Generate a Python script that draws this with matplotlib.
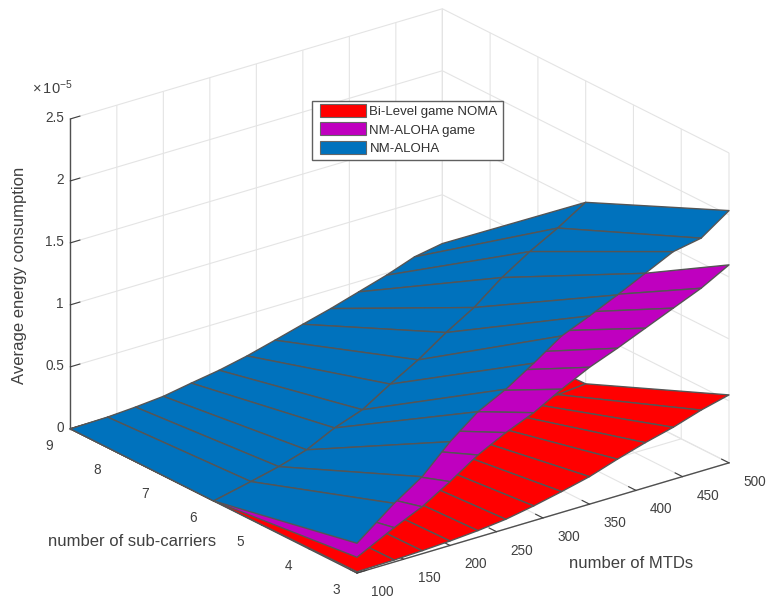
import numpy as np
import matplotlib
matplotlib.use('Agg')
import matplotlib.pyplot as plt
from matplotlib.patches import Patch, Rectangle
from matplotlib.legend_handler import HandlerPatch
from mpl_toolkits.mplot3d import proj3d

plt.rcParams['font.family'] = ['Liberation Sans', 'DejaVu Sans']
plt.rcParams['mathtext.default'] = 'regular'

# ---- data (energy in units of 1e-5) ----
mtds = [100, 140, 170, 200, 230, 260, 290, 320, 350, 380, 410, 440, 470, 500]
subcarriers = [3, 6, 9]

bilevel_y3 = [.01, .016, .024, .036, .053, .078, .119, .168, .222, .296, .363, .420, .492, .548]
bilevel_y6 = [0, .001, .002, .003, .004, .006, .008, .011, .015, .02, .025, .03, .035, .056]
bilevel_y9 = [0, 0, 0, .001, .001, .002, .002, .003, .004, .005, .006, .007, .008, .01]

game_y3 = [.127, .277, .379, .515, .663, .777, .871, .994, 1.104, 1.191, 1.286, 1.381, 1.475, 1.597]
game_y6 = [0, .04, .07, .11, .18, .23, .31, .39, .48, .56, .67, .75, .81, .90]
game_y9 = [0, .003, .01, .02, .04, .06, .09, .12, .15, .18, .22, .26, .30, .34]

aloha_y3 = [.24, .473, .621, .837, 1.012, 1.127, 1.27, 1.423, 1.518, 1.621, 1.729, 1.837, 1.879, 2.035]
aloha_y6 = [0, .067, .121, .19, .30, .38, .52, .649, .803, .938, 1.113, 1.256, 1.379, 1.52]
aloha_y9 = [0, .006, .02, .04, .08, .117, .166, .226, .288, .348, .416, .484, .565, .606]

labels = ['Bi-Level game NOMA', 'NM-ALOHA game', 'NM-ALOHA']
colors = ['#FF0000', '#BF00BF', '#0072BD']
xticks = [100, 150, 200, 250, 300, 350, 400, 450, 500]
yticks = [3, 4, 5, 6, 7, 8, 9]
zticks = [0, 0.5, 1, 1.5, 2, 2.5]
zticklabels = ['0', '0.5', '1', '1.5', '2', '2.5']

W, H = 768, 597
TXT = '#404040'
fig = plt.figure(figsize=(W / 100, H / 100), dpi=100)
ax = fig.add_axes([0.1, 0.1, 0.8, 0.8 * W / H], projection='3d', proj_type='ortho',
                  computed_zorder=False)
ax.view_init(elev=22.7, azim=-127.5)
ax.set_box_aspect((469, 471, 336))

X, Y = np.meshgrid(mtds, subcarriers)
surfaces = [(bilevel_y3, bilevel_y6, bilevel_y9), (game_y3, game_y6, game_y9), (aloha_y3, aloha_y6, aloha_y9)]
for i, (s, c) in enumerate(zip(surfaces, colors)):
    Z = np.array(s) * 1e-5
    ax.plot_surface(X, Y, Z, color=c, shade=False, edgecolor='#555555', linewidth=1.0,
                    rstride=1, cstride=1, antialiased=True, zorder=2 + i)

ax.set_xlim(100, 500, view_margin=0)
ax.set_ylim(3, 9, view_margin=0)
ax.set_zlim(0, 2.5e-5, view_margin=0)
ax.set_xticks(xticks)
ax.set_yticks(yticks)
ax.set_zticks([t * 1e-5 for t in zticks])
ax.set_xticklabels([str(t) for t in xticks])
ax.set_yticklabels([str(t) for t in yticks])
ax.set_zticklabels(zticklabels)
ax.zaxis.get_offset_text().set_visible(False)
ax.tick_params(axis='both', labelsize=9.8, colors=TXT, pad=0)

for axis in (ax.xaxis, ax.yaxis, ax.zaxis):
    axis.set_pane_color((1, 1, 1, 1))
    axis.pane.set_edgecolor((1, 1, 1, 0))
    axis.line.set_color('#505050')
    axis.line.set_linewidth(1.0)
    axis._axinfo['grid']['color'] = '#e4e4e4'
    axis._axinfo['grid']['linewidth'] = 0.8
    axis._axinfo['tick']['inward_factor'] = 0.0
    axis._axinfo['tick']['outward_factor'] = 0.32
    axis._axinfo['tick']['linewidth'] = {True: 0.8, False: 0.8}
    axis._axinfo['tick']['color'] = '#404040'


def pin_label(axis, text, px_x, px_y, rotation=0):
    """Axis label at a fixed pixel position (mplot3d re-places it at each draw)."""
    axis.set_label_text(text, fontsize=12, color=TXT)
    axis.set_rotate_label(False)
    lab = axis.label
    lab.set_rotation(rotation)
    set_pos = lab.set_position
    lab.set_position = lambda xy: set_pos(ax.transData.inverted().transform((px_x, H - px_y)))


def shift_ticklabels(axis, dx, dy, ha=None):
    """Nudge tick labels by a pixel offset from where mplot3d places them."""
    for t in axis.get_major_ticks():
        lab = t.label1
        if ha:
            lab.set_ha(ha)

        def moved(xy, set_pos=lab.set_position):
            set_pos(ax.transData.inverted().transform(ax.transData.transform(xy) + (dx, dy)))
        lab.set_position = moved


pin_label(ax.xaxis, 'number of MTDs', 631, 564)
pin_label(ax.yaxis, 'number of sub-carriers', 132, 541)
pin_label(ax.zaxis, 'Average energy consumption', 20, 275, rotation=90)
shift_ticklabels(ax.xaxis, 17, 1.5)
shift_ticklabels(ax.yaxis, -10, 2.5)
shift_ticklabels(ax.zaxis, 13, 7, ha='right')

fig.text(32 / W, 1 - 88 / H, r'$\times\,10^{-5}$', fontsize=10.5, color=TXT, ha='left', va='center')


def legend_rect(legend, orig_handle, xdescent, ydescent, width, height, fontsize):
    return Rectangle((2.3, -1.3), 32.5, 9.4)


handles = [Patch(facecolor=c, edgecolor='#666666', linewidth=0.8) for c in colors]
leg = ax.legend(handles, labels, loc='upper left', bbox_to_anchor=(311.7 / W, 1 - 100.7 / H),
                bbox_transform=fig.transFigure, fontsize=9.5, fancybox=False, framealpha=1,
                edgecolor='#606060', borderaxespad=0, borderpad=0.42, handlelength=3.66,
                handletextpad=0.30, labelspacing=0.45,
                handler_map={Patch: HandlerPatch(patch_func=legend_rect)})
leg.get_frame().set_linewidth(1.0)
for t in leg.get_texts():
    t.set_color('#303030')


# ---- place the axes so the box corners land where the reference has them ----
def px(x, y, z):
    fig.canvas.draw()
    u, v, _ = proj3d.proj_transform(x, y, z, ax.get_proj())
    return ax.transData.transform((u, v))


side = 0.8 * W
left, bottom = 0.1 * W, 0.1 * W
a = px(100, 3, 0)
b = px(500, 3, 0)
side *= 372 / (b[0] - a[0])
for _ in range(2):
    ax.set_position([left / W, bottom / H, side / W, side / H])
    a = px(100, 3, 0)
    left += 357 - a[0]
    bottom += (H - 573) - a[1]
ax.set_position([left / W, bottom / H, side / W, side / H])

fig.savefig('out.png', dpi=100)
